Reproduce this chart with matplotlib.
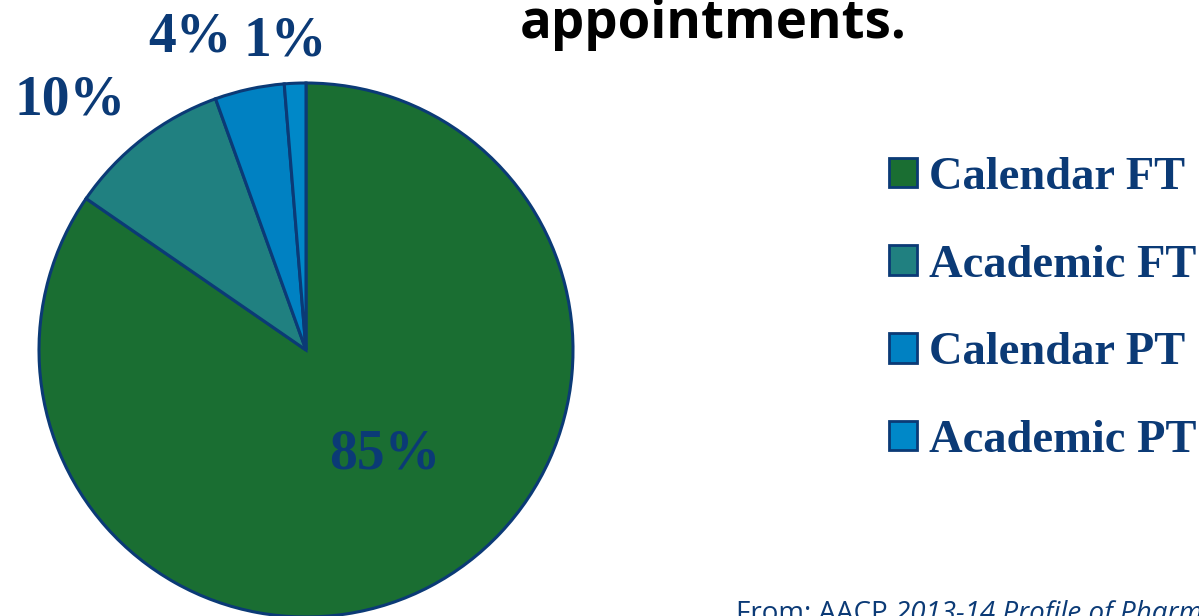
import matplotlib
matplotlib.use("Agg")
import matplotlib.pyplot as plt
from matplotlib.patches import Patch

categories = ["Calendar FT", "Academic FT", "Calendar PT", "Academic PT"]
values = [84.6, 9.9, 4.2, 1.3]
pct_labels = ["85%", "10%", "4%", "1%"]
colors = ["#1a6e32", "#208080", "#0081c2", "#0088c8"]
title_text = "appointments."
source_plain = "From: AACP "
source_italic = "2013-14 Profile of Pharmacy Faculty"

navy = "#0b3a76"
label_pos = [(0.296, -0.393), (-0.884, 0.936), (-0.434, 1.172), (-0.079, 1.154)]

fig = plt.figure(figsize=(11.99, 6.16), dpi=100)
ax = fig.add_axes([39 / 1199, -1 / 616, 534 / 1199, 534 / 616])
wedges, _ = ax.pie(values, colors=colors, startangle=90, counterclock=False,
                   radius=1.0,
                   wedgeprops=dict(edgecolor=navy, linewidth=2.2))
ax.set_xlim(-1.0, 1.0)
ax.set_ylim(-1.0, 1.0)
ax.set_aspect("auto")
ax.axis("off")

for (x, y), lab in zip(label_pos, pct_labels):
    ax.text(x, y, lab, ha="center", va="center", fontsize=40,
            fontfamily="Liberation Serif", fontweight="bold", color=navy,
            clip_on=False)

fig.text(713 / 1199, 1 - 38 / 616, title_text, ha="center", va="baseline",
         fontsize=38, fontfamily="Open Sans", fontweight="bold", color="black")

handles = [Patch(facecolor=c, edgecolor=navy, linewidth=2.0) for c in colors]
leg = fig.legend(handles, categories, loc="upper left",
                 bbox_to_anchor=(889 / 1199, 1 - 157 / 616),
                 frameon=False, handlelength=0.6, handleheight=0.6,
                 handletextpad=0.25, labelspacing=0.98, borderaxespad=0,
                 borderpad=0,
                 prop=dict(family="Liberation Serif", weight="bold", size=33.5))
for t in leg.get_texts():
    t.set_color(navy)

t1 = fig.text(736 / 1199, -5 / 616, source_plain, ha="left", va="baseline",
              fontsize=20, fontfamily="Open Sans", color=navy)
ax.annotate(source_italic, xy=(1, 0), xycoords=t1, ha="left", va="bottom",
            fontsize=20, fontfamily="Open Sans", fontstyle="italic",
            color=navy, annotation_clip=False)

fig.savefig("out.png", dpi=100)
